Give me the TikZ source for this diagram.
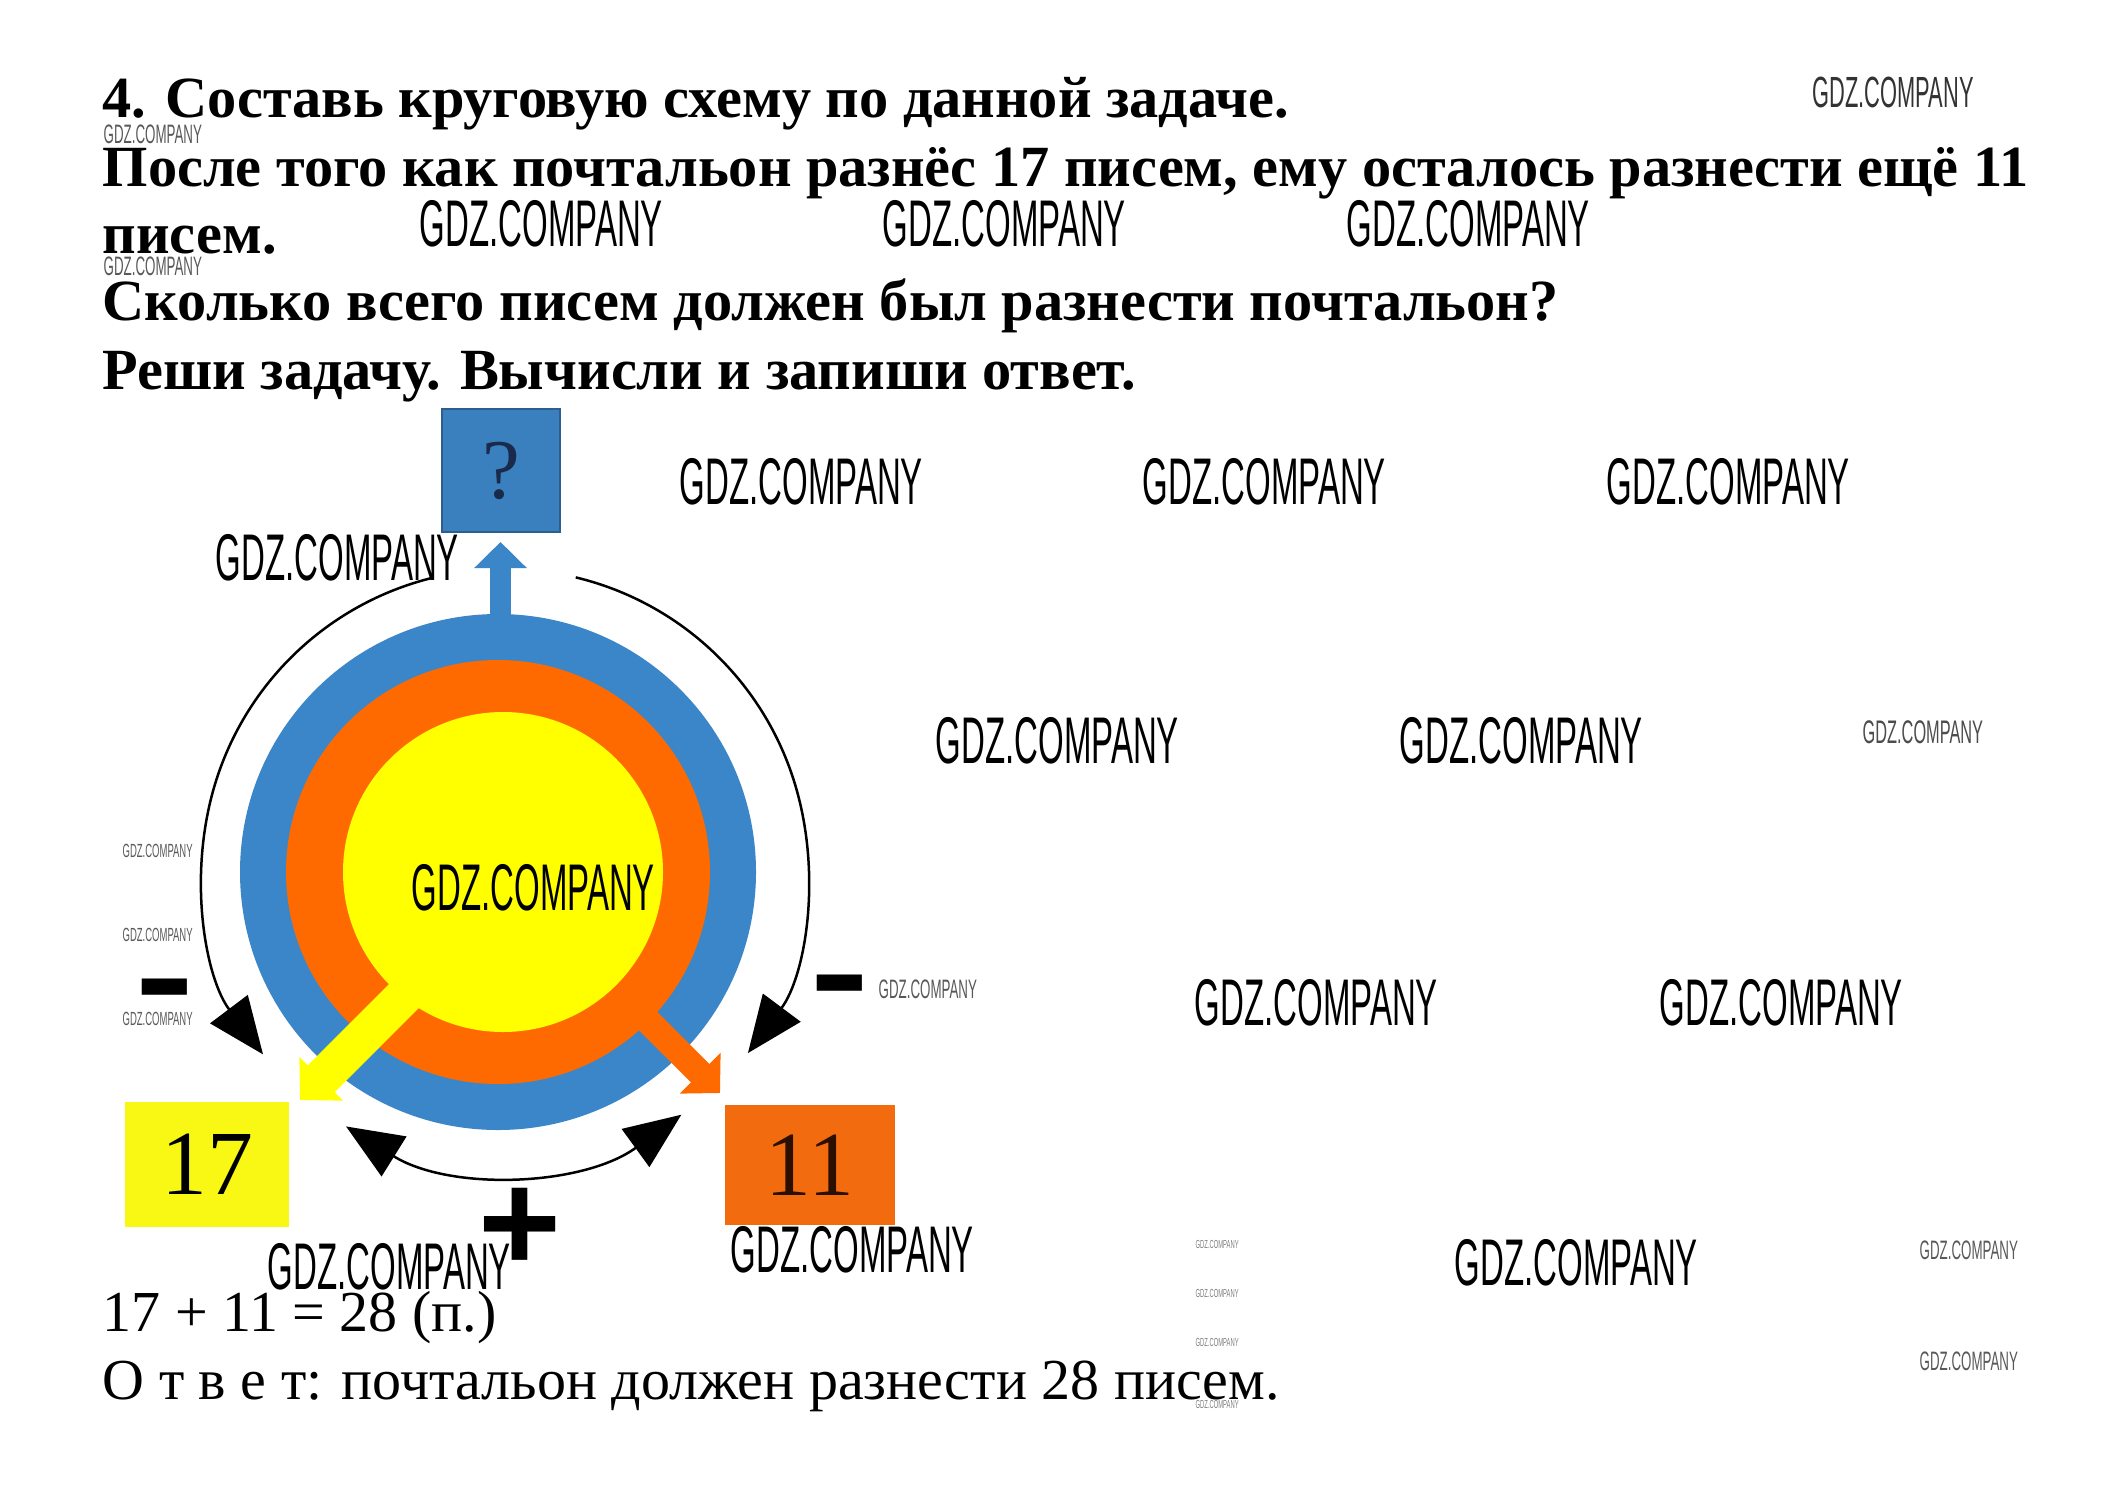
\documentclass[tikz,border=0pt]{standalone}
\usepackage{fontspec}
\setmainfont{Liberation Serif}
\newfontfamily\wmfont[FakeStretch=0.5]{Liberation Sans}
\newfontfamily\symfont{Liberation Sans}
\usetikzlibrary{arrows.meta}
\definecolor{ringblue}{HTML}{3A86C8}
\definecolor{ringorange}{HTML}{FF6A00}
\definecolor{ringyellow}{HTML}{FFFF00}
\definecolor{boxyellow}{HTML}{F8F814}
\definecolor{boxorange}{HTML}{F26B0F}
\definecolor{qblue}{HTML}{3A80BE}
\definecolor{qborder}{HTML}{2C5F8F}
\definecolor{qtext}{HTML}{1A2A4A}
\definecolor{elevtext}{HTML}{2B0F00}
\begin{document}
\begin{tikzpicture}[x=0.3pt,y=-0.3pt,
  titleline/.style={anchor=base west, inner sep=0pt, font=\fontsize{17.5}{20}\selectfont\bfseries},
  ansline/.style={anchor=base west, inner sep=0pt, font=\fontsize{17.4}{21}\selectfont},
  wmL/.style={anchor=west, inner sep=0pt, text=black, font=\wmfont\fontsize{19.8}{22}\selectfont},
  wmM/.style={anchor=west, inner sep=0pt, text=black!80, font=\wmfont\fontsize{13.1}{15}\selectfont},
  wmS/.style={anchor=west, inner sep=0pt, text=black!70, font=\wmfont\fontsize{9.8}{11}\selectfont},
  wmSS/.style={anchor=west, inner sep=0pt, text=black!65, font=\wmfont\fontsize{8}{9}\selectfont},
  wmT/.style={anchor=west, inner sep=0pt, text=black!65, font=\wmfont\fontsize{5.7}{6}\selectfont},
  wmVT/.style={anchor=west, inner sep=0pt, text=black!50, font=\wmfont\fontsize{3.5}{4}\selectfont},
  numbox/.style={inner sep=0pt, draw=none, font=\fontsize{27.5}{30}\selectfont},
  ringarc/.style={line width=0.75pt, black},
  bigtip/.style={-{Triangle[length=17pt,width=14pt]}},
  sym/.style={inner sep=0pt, font=\symfont\bfseries}
]
\useasboundingbox (0,0) rectangle (2125,1511);
\fill[white] (0,0) rectangle (2125,1511);

% ---- problem text ----
\node[titleline] (t1) at (102,117) {4. Составь круговую схему по данной задаче.};
\node[titleline] (t2) at (102,186) {После того как почтальон разнёс 17 писем, ему осталось разнести ещё 11};
\node[titleline] (t3) at (102,253) {писем.};
\node[titleline] (t4) at (102,320) {Сколько всего писем должен был разнести почтальон?};
\node[titleline] (t5) at (102,389) {Реши задачу. Вычисли и запиши ответ.};

% ---- circles ----
\coordinate (C) at (505,872);
\node[circle, fill=ringblue, inner sep=0pt, minimum size=154.8pt] (outer) at (498,872) {};
\node[circle, fill=ringorange, inner sep=0pt, minimum size=127.2pt] (middle) at (498,872) {};
\node[circle, fill=ringyellow, inner sep=0pt, minimum size=96pt] (inner) at (503,872) {};

% ---- boxes ----
\node[numbox, fill=qblue, draw=qborder, line width=0.6pt, minimum width=35.4pt, minimum height=36.9pt, text=qtext, font=\fontsize{25.5}{28}\selectfont] (q) at (501,470.5) {?};
\node[numbox, fill=boxyellow, minimum width=49.2pt, minimum height=37.5pt] (b17) at (207,1164.5) {17};
\node[numbox, fill=boxorange, minimum width=51pt, minimum height=36pt, text=elevtext] (b11) at (810,1165) {11};

% ---- fat arrows ----
\coordinate (bs) at (500.5,622);
\coordinate (btip) at (500.5,542);
\draw[ringblue, line width=6.3pt, -{Triangle[length=7.8pt,width=15.3pt]}] (bs) -- (btip);
\coordinate (ys) at (427,973);
\coordinate (ytip) at (300,1100);
\draw[ringyellow, line width=11.4pt, -{Triangle[length=9pt,width=18pt]}] (ys) -- (ytip);
\coordinate (os) at (633,1006);
\coordinate (otip) at (720,1093);
\draw[ringorange, line width=7.8pt, -{Triangle[length=8.4pt,width=16.8pt]}] (os) -- (otip);

% ---- thin arcs with arrows ----
\draw[ringarc, bigtip] ([shift={(C)}]256:303) arc[start angle=256, end angle=143, radius=303];
\draw[ringarc, bigtip] ([shift={(C)}]-76.5:303) arc[start angle=-76.5, end angle=36.7, radius=303];
\draw[ringarc, {Triangle[length=17pt,width=14pt]}-{Triangle[length=17pt,width=14pt]}] ([shift={(C)}]122:300) arc[start angle=122, end angle=54, radius=300];

% ---- signs ----
\node[sym, font=\symfont\bfseries\fontsize{27}{30}\selectfont, yscale=1.65, transform shape] (mL) at (164.5,1008) {−};
\node[sym, font=\symfont\bfseries\fontsize{27}{30}\selectfont, yscale=1.65, transform shape] (mR) at (840,1004) {−};
\node[sym, font=\symfont\bfseries\fontsize{42.6}{46}\selectfont] (plus) at (520,1230) {+};

% ---- solution ----
\node[ansline] (a1) at (102,1331) {17 + 11 = 28 (п.)};
\node[ansline] (a2) at (102,1399) {О т в е т: почтальон должен разнести 28 писем.};

% ---- watermarks ----
\node[wmM] (w1) at (1812,92) {GDZ.COMPANY};
\node[wmSS] (w2) at (103,134) {GDZ.COMPANY};
\node[wmL] (w3) at (419,224) {GDZ.COMPANY};
\node[wmL] (w4) at (882,224) {GDZ.COMPANY};
\node[wmL] (w5) at (1346,224) {GDZ.COMPANY};
\node[wmSS] (w6) at (103,266) {GDZ.COMPANY};
\node[wmL] (w7) at (679,482) {GDZ.COMPANY};
\node[wmL] (w8) at (1142,482) {GDZ.COMPANY};
\node[wmL] (w9) at (1606,482) {GDZ.COMPANY};
\node[wmL] (w10) at (215,558) {GDZ.COMPANY};
\node[wmL] (w11) at (935,741) {GDZ.COMPANY};
\node[wmL] (w12) at (1399,741) {GDZ.COMPANY};
\node[wmS] (w13) at (1862,732) {GDZ.COMPANY};
\node[wmL] (w14) at (411,888) {GDZ.COMPANY};
\node[wmT] (w15) at (122,851) {GDZ.COMPANY};
\node[wmT] (w16) at (122,935) {GDZ.COMPANY};
\node[wmT] (w17) at (122,1019) {GDZ.COMPANY};
\node[wmSS] (w18) at (878,989) {GDZ.COMPANY};
\node[wmL] (w19) at (1194,1003) {GDZ.COMPANY};
\node[wmL] (w20) at (1659,1003) {GDZ.COMPANY};
\node[wmVT] (w21) at (1195,1244) {GDZ.COMPANY};
\node[wmVT] (w22) at (1195,1293) {GDZ.COMPANY};
\node[wmVT] (w23) at (1195,1342) {GDZ.COMPANY};
\node[wmVT] (w24) at (1195,1404) {GDZ.COMPANY};
\node[wmL] (w25) at (1454,1263) {GDZ.COMPANY};
\node[wmSS] (w26) at (1919,1250) {GDZ.COMPANY};
\node[wmSS] (w27) at (1919,1361) {GDZ.COMPANY};
\node[wmL] (w28) at (267,1267) {GDZ.COMPANY};
\node[wmL] (w29) at (730,1250) {GDZ.COMPANY};
\end{tikzpicture}
\end{document}
